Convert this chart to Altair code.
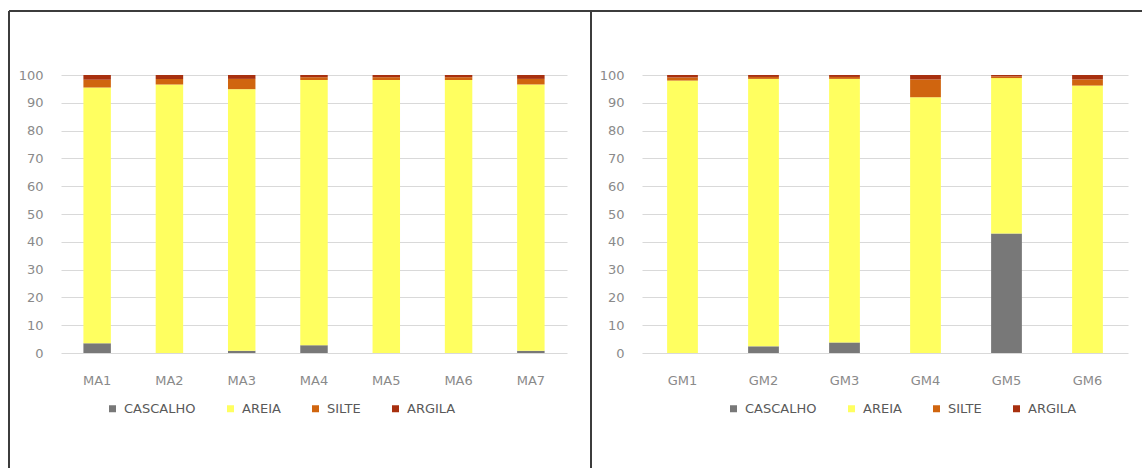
import altair as alt
import pandas as pd

# Grain-size fractions (%) per sample
components = ["CASCALHO", "AREIA", "SILTE", "ARGILA"]
component_colors = ["#787878", "#ffff60", "#d0650f", "#a8300f"]

ma_samples = ["MA1", "MA2", "MA3", "MA4", "MA5", "MA6", "MA7"]
ma_cascalho = [3.5, 0.0, 0.8, 2.8, 0.0, 0.0, 0.8]
ma_areia = [92.0, 96.6, 94.1, 95.4, 98.2, 98.2, 95.8]
ma_silte = [2.8, 2.0, 3.7, 1.0, 1.0, 1.0, 2.0]
ma_argila = [1.7, 1.4, 1.4, 0.8, 0.8, 0.8, 1.4]

gm_samples = ["GM1", "GM2", "GM3", "GM4", "GM5", "GM6"]
gm_cascalho = [0.0, 2.4, 3.8, 0.0, 43.0, 0.0]
gm_areia = [98.0, 96.2, 94.8, 92.0, 55.9, 96.2]
gm_silte = [1.1, 0.7, 0.7, 6.4, 0.6, 2.2]
gm_argila = [0.9, 0.7, 0.7, 1.6, 0.5, 1.6]

y_ticks = list(range(0, 101, 10))
FONT = "DejaVu Sans"
PLOT_H = 278


def long_table(samples, series):
    rows = []
    for i, s in enumerate(samples):
        for k, (name, vals) in enumerate(zip(components, series)):
            rows.append({"amostra": s, "fracao": name, "valor": vals[i], "ordem": k})
    return pd.DataFrame(rows)


def frame_line(**enc):
    # thin decorative frame segment, drawn in pixel space of the panel
    return (
        alt.Chart(pd.DataFrame({"k": [0]}))
        .mark_rule(color="#3c3c3c", strokeWidth=2)
        .encode(**{c: alt.value(v) for c, v in enc.items()})
    )


def panel(samples, series, width, legend_x, frame):
    df = long_table(samples, series)
    bars = (
        alt.Chart(df)
        .mark_bar()
        .encode(
            x=alt.X(
                "amostra:N",
                sort=samples,
                title=None,
                scale=alt.Scale(paddingInner=0.62, paddingOuter=0.31),
                axis=alt.Axis(
                    labelAngle=0, labelPadding=21, ticks=False, domain=False,
                    labelFont=FONT, labelFontSize=13, labelColor="#8a8a8a",
                ),
            ),
            y=alt.Y(
                "valor:Q",
                stack="zero",
                title=None,
                scale=alt.Scale(domain=[0, 100], nice=False),
                axis=alt.Axis(
                    values=y_ticks, ticks=False, domain=False, labelPadding=18,
                    labelFont=FONT, labelFontSize=13, labelColor="#8a8a8a",
                    gridColor="#d9d9d9", gridWidth=1,
                ),
            ),
            color=alt.Color(
                "fracao:N",
                sort=components,
                scale=alt.Scale(domain=components, range=component_colors),
                legend=alt.Legend(
                    title=None, orient="none", direction="horizontal",
                    legendX=legend_x, legendY=327, symbolType="square",
                    symbolSize=49, symbolStrokeWidth=0, labelOffset=5,
                    columnPadding=28, padding=0, labelFont=FONT,
                    labelFontSize=13, labelColor="#595959",
                ),
            ),
            order=alt.Order("ordem:Q", sort="ascending"),
        )
    )
    return alt.layer(bars, *frame).properties(width=width, height=PLOT_H)


left = panel(
    ma_samples, [ma_cascalho, ma_areia, ma_silte, ma_argila], 506, 45,
    [
        frame_line(x=-52, y=-64, y2=393),
        frame_line(x=-52, x2=530, y=-64),
        frame_line(x=530, y=-64, y2=393),
    ],
)
right = panel(
    gm_samples, [gm_cascalho, gm_areia, gm_silte, gm_argila], 486, 85,
    [frame_line(x=-51, x2=500, y=-64)],
)

chart = (
    alt.hconcat(left, right, spacing=75, bounds="flush")
    .resolve_scale(color="independent")
    .properties(padding={"left": 8, "top": 10, "right": 0, "bottom": 0}, background="white")
    .configure_view(stroke=None)
)

chart.save("out.html", embed_options={"renderer": "svg", "actions": False})
